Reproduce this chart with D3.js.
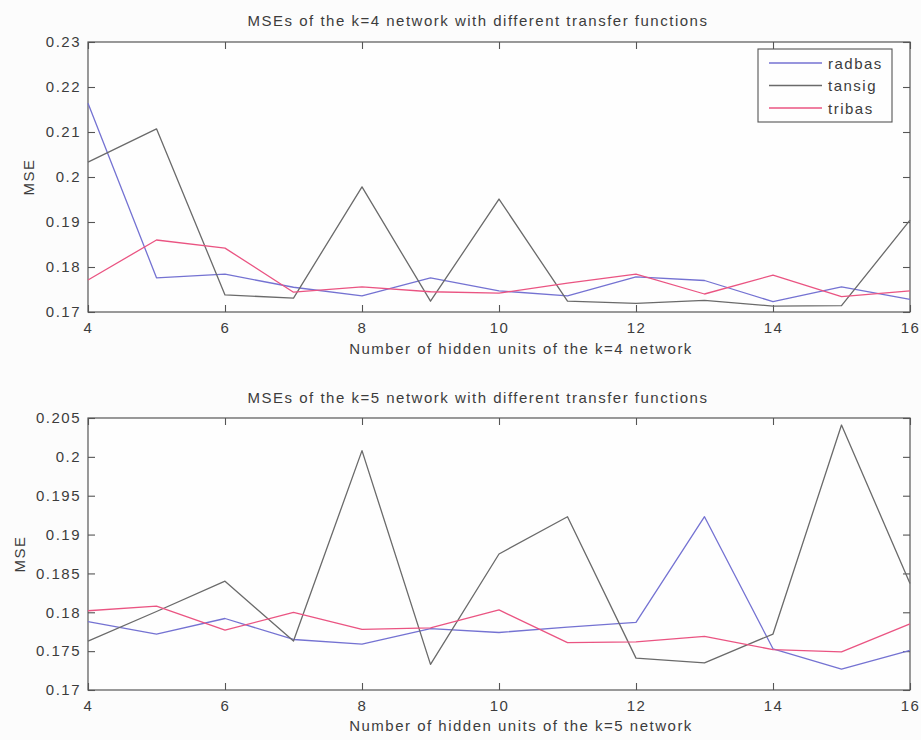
<!DOCTYPE html>
<html>
<head>
<meta charset="utf-8">
<script src="https://cdn.jsdelivr.net/npm/d3@7"></script>
<style>
  body { margin: 0; background: #fcfcfc; }
  svg { display: block; }
  text { font-family: "Liberation Sans", Arial, Helvetica, sans-serif; fill: #3c3c3c; }
</style>
</head>
<body>
<svg id="chart" width="921" height="740"></svg>
<script>
// Number of hidden units (x values shared by both panels)
const hiddenUnits = [4, 5, 6, 7, 8, 9, 10, 11, 12, 13, 14, 15, 16];
const xTickValues = [4, 6, 8, 10, 12, 14, 16];

// k=4 network MSEs per transfer function
const k4Radbas = [0.2164, 0.1776, 0.1784, 0.1755, 0.1736, 0.1776, 0.1747, 0.1736, 0.1778, 0.1770, 0.1723, 0.1756, 0.1728];
const k4Tansig = [0.2033, 0.2107, 0.1738, 0.1731, 0.1978, 0.1724, 0.1951, 0.1724, 0.1719, 0.1726, 0.1713, 0.1714, 0.1904];
const k4Tribas = [0.1771, 0.1860, 0.1842, 0.1744, 0.1756, 0.1745, 0.1742, 0.1764, 0.1784, 0.1740, 0.1782, 0.1734, 0.1747];
const k4YTicks = [0.17, 0.18, 0.19, 0.2, 0.21, 0.22, 0.23];

// k=5 network MSEs per transfer function
const k5Radbas = [0.1788, 0.1772, 0.1792, 0.1765, 0.1759, 0.1779, 0.1774, 0.1781, 0.1787, 0.1923, 0.1753, 0.1727, 0.1751];
const k5Tansig = [0.1763, 0.1801, 0.1840, 0.1763, 0.2008, 0.1733, 0.1875, 0.1923, 0.1741, 0.1735, 0.1772, 0.2041, 0.1837];
const k5Tribas = [0.1802, 0.1808, 0.1777, 0.1800, 0.1778, 0.1780, 0.1803, 0.1761, 0.1762, 0.1769, 0.1752, 0.1749, 0.1785];
const k5YTicks = [0.17, 0.175, 0.18, 0.185, 0.19, 0.195, 0.2, 0.205];

const seriesNames = ["radbas", "tansig", "tribas"];
const seriesColors = ["#7472d2", "#6a6a6a", "#ea5482"];

const svg = d3.select("#chart");
const LS = 1.5;          // letter spacing used for all text
const FS = 15;           // base font size
const axisColor = "#555";
const left = 88, right = 910;

const x = d3.scaleLinear().domain([4, 16]).range([left, right]);
const fmt = d => String(+d.toFixed(3));

const panels = [
  {
    top: 42, bottom: 312, yTicks: k4YTicks,
    series: [k4Radbas, k4Tansig, k4Tribas],
    title: "MSEs of the k=4 network with different transfer functions", titleY: 20,
    xlabel: "Number of hidden units of the k=4 network", xlabelY: 348,
    ylabelX: 28, legend: true
  },
  {
    top: 418, bottom: 690, yTicks: k5YTicks,
    series: [k5Radbas, k5Tansig, k5Tribas],
    title: "MSEs of the k=5 network with different transfer functions", titleY: 397,
    xlabel: "Number of hidden units of the k=5 network", xlabelY: 725,
    ylabelX: 19, legend: false
  }
];

const titleX = 478, xlabelX = 521;

panels.forEach(p => {
  const y = d3.scaleLinear()
    .domain([p.yTicks[0], p.yTicks[p.yTicks.length - 1]])
    .range([p.bottom, p.top]);
  const g = svg.append("g");

  // plot area frame
  g.append("rect")
    .attr("x", left).attr("y", p.top)
    .attr("width", right - left).attr("height", p.bottom - p.top)
    .attr("fill", "#fefefe").attr("stroke", axisColor).attr("stroke-width", 1.2);

  // axes with inward ticks on all four sides
  const tickLen = 7;
  const bottomAxis = d3.axisBottom(x).tickValues(xTickValues).tickFormat(fmt).tickSizeInner(-tickLen).tickSizeOuter(0).tickPadding(10);
  const topAxis = d3.axisTop(x).tickValues(xTickValues).tickFormat("").tickSizeInner(-tickLen).tickSizeOuter(0);
  const leftAxis = d3.axisLeft(y).tickValues(p.yTicks).tickFormat(fmt).tickSizeInner(-tickLen).tickSizeOuter(0).tickPadding(7);
  const rightAxis = d3.axisRight(y).tickValues(p.yTicks).tickFormat("").tickSizeInner(-tickLen).tickSizeOuter(0);

  const axes = [
    g.append("g").attr("transform", `translate(0,${p.bottom})`).call(bottomAxis),
    g.append("g").attr("transform", `translate(0,${p.top})`).call(topAxis),
    g.append("g").attr("transform", `translate(${left},0)`).call(leftAxis),
    g.append("g").attr("transform", `translate(${right},0)`).call(rightAxis)
  ];
  axes.forEach(a => {
    a.select(".domain").remove();
    a.selectAll("line").attr("stroke", axisColor).attr("stroke-width", 1.1);
    a.selectAll("text").attr("font-size", FS).attr("letter-spacing", LS)
      .attr("font-family", "Liberation Sans, Arial, sans-serif").attr("fill", "#3c3c3c");
  });

  // series lines
  const line = d3.line().x((d, i) => x(hiddenUnits[i])).y(d => y(d));
  p.series.forEach((vals, si) => {
    g.append("path").datum(vals)
      .attr("d", line)
      .attr("fill", "none")
      .attr("stroke", seriesColors[si])
      .attr("stroke-width", 1.3)
      .attr("stroke-linejoin", "round");
  });

  // titles and labels
  g.append("text").attr("x", titleX).attr("y", p.titleY)
    .attr("text-anchor", "middle").attr("dominant-baseline", "central")
    .attr("font-size", FS).attr("letter-spacing", LS).text(p.title);
  g.append("text").attr("x", xlabelX).attr("y", p.xlabelY)
    .attr("text-anchor", "middle").attr("dominant-baseline", "central")
    .attr("font-size", FS).attr("letter-spacing", LS).text(p.xlabel);
  g.append("text")
    .attr("transform", `translate(${p.ylabelX},${(p.top + p.bottom) / 2}) rotate(-90)`)
    .attr("text-anchor", "middle").attr("dominant-baseline", "central")
    .attr("font-size", FS).attr("letter-spacing", LS).text("MSE");

  if (p.legend) {
    const lg = g.append("g");
    lg.append("rect").attr("x", 758).attr("y", 49).attr("width", 134).attr("height", 73)
      .attr("fill", "#fefefe").attr("stroke", axisColor).attr("stroke-width", 1.1);
    seriesNames.forEach((name, i) => {
      const yy = 63 + i * 22.5;
      lg.append("line").attr("x1", 769).attr("x2", 822).attr("y1", yy).attr("y2", yy)
        .attr("stroke", seriesColors[i]).attr("stroke-width", 1.3);
      lg.append("text").attr("x", 828).attr("y", yy).attr("dominant-baseline", "central")
        .attr("font-size", FS).attr("letter-spacing", LS).text(name);
    });
  }
});
</script>
</body>
</html>
